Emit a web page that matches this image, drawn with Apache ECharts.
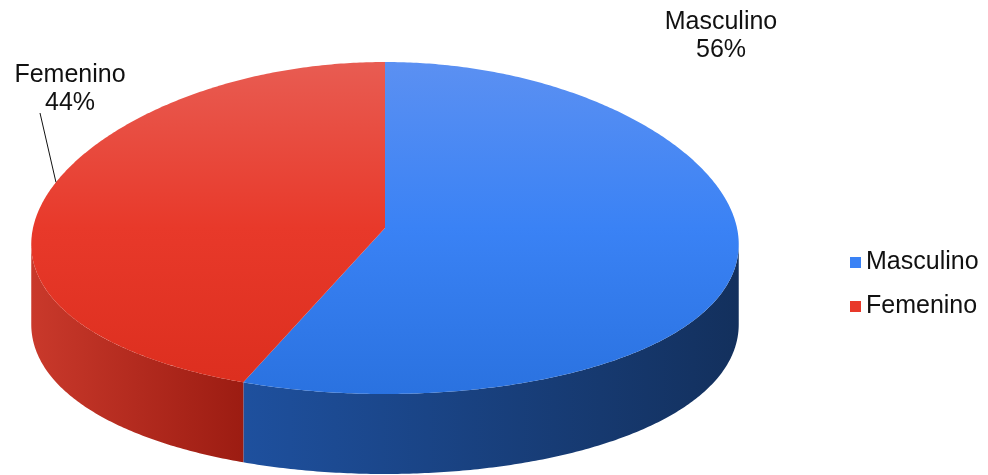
<!DOCTYPE html>
<html>
<head>
<meta charset="utf-8">
<script src="https://cdn.jsdelivr.net/npm/echarts@6/dist/echarts.min.js"></script>
<style>
  html, body { margin: 0; padding: 0; background: #fff; }
  #main { width: 988px; height: 475px; }
</style>
</head>
<body>
<div id="main"></div>
<script>
// data
const categories = ['Masculino', 'Femenino'];
const values = [56, 44];

// colours: top face (top, mid, bottom) and side wall (left, right)
const topColors = [
  ['#5b90f2', '#3a82f5', '#2a72e0'],
  ['#e85c52', '#e8392a', '#dc2e1e']
];
const sideColors = [
  ['#1e509e', '#13305d'],
  ['#c9392b', '#9c1c12']
];

// layout of the tilted disc (k = slight perspective, front wider than back)
const cx = 385, cy = 228, rx = 352, ry = 166, depth = 80, k = 0.1;
const labelPos = [[721, 8], [70, 61]];
const leader = [null, { from: [40, 113], angle: 286 }];

const total = values.reduce((a, b) => a + b, 0);
const starts = [];
let acc = 0;
values.forEach(v => { starts.push(acc / total * Math.PI * 2); acc += v; });

function pt(t, dy) {
  const f = 1 + k * (-Math.cos(t));
  return [cx + rx * Math.sin(t) * f, cy + (dy || 0) - ry * Math.cos(t)];
}

// angles of the left and right silhouette of the disc
function silhouette(lo, hi, sign) {
  let best = lo, bx = -Infinity;
  for (let t = lo; t <= hi; t += 0.001) {
    const x = sign * pt(t, 0)[0];
    if (x > bx) { bx = x; best = t; }
  }
  return best;
}
const visFrom = silhouette(Math.PI / 3, Math.PI * 2 / 3, 1);
const visTo = silhouette(Math.PI * 4 / 3, Math.PI * 5 / 3, -1);

function arc(a0, a1, dy) {
  const pts = [];
  const n = Math.max(2, Math.ceil((a1 - a0) / 0.01));
  for (let i = 0; i <= n; i++) pts.push(pt(a0 + (a1 - a0) * i / n, dy));
  return pts;
}

function makeRender(idx) {
  return function (params, api) {
    const a0 = starts[idx];
    const a1 = a0 + values[idx] / total * Math.PI * 2;
    const children = [];

    // side wall, only the front half is visible
    const s0 = Math.max(a0, visFrom), s1 = Math.min(a1, visTo);
    if (s1 > s0) {
      const pts = arc(s0, s1, 0).concat(arc(s0, s1, depth).reverse());
      children.push({
        type: 'polygon',
        shape: { points: pts },
        style: {
          fill: {
            type: 'linear', x: 0, y: 0, x2: 1, y2: 0,
            colorStops: [
              { offset: 0, color: sideColors[idx][0] },
              { offset: 1, color: sideColors[idx][1] }
            ]
          }
        }
      });
    }

    // top face
    children.push({
      type: 'polygon',
      shape: { points: [[cx, cy]].concat(arc(a0, a1, 0)) },
      style: {
        fill: {
          type: 'linear', x: 0, y: cy - ry, x2: 0, y2: cy + ry, global: true,
          colorStops: [
            { offset: 0, color: topColors[idx][0] },
            { offset: 0.5, color: topColors[idx][1] },
            { offset: 1, color: topColors[idx][2] }
          ]
        }
      }
    });

    // label
    const pct = Math.round(values[idx] / total * 100) + '%';
    children.push({
      type: 'text',
      x: labelPos[idx][0], y: labelPos[idx][1],
      style: {
        text: categories[idx] + '\n' + pct,
        fontFamily: 'Liberation Sans, Arial, sans-serif',
        fontSize: 25,
        lineHeight: 28,
        fill: '#111',
        align: 'center',
        verticalAlign: 'top'
      }
    });
    if (leader[idx]) {
      const e = pt(leader[idx].angle * Math.PI / 180, 0);
      children.push({
        type: 'line',
        shape: { x1: leader[idx].from[0], y1: leader[idx].from[1], x2: e[0], y2: e[1] },
        style: { stroke: '#111', lineWidth: 1 }
      });
    }
    return { type: 'group', children: children };
  };
}

const chart = echarts.init(document.getElementById('main'));
chart.setOption({
  animation: false,
  color: topColors.map(c => c[1]),
  legend: {
    orient: 'vertical',
    left: 845,
    top: 245,
    icon: 'rect',
    itemWidth: 11,
    itemHeight: 11,
    itemGap: 19,
    textStyle: { fontFamily: 'Liberation Sans, Arial, sans-serif', fontSize: 25, color: '#111' },
    data: categories
  },
  series: categories.map((name, i) => ({
    type: 'custom',
    name: name,
    coordinateSystem: 'none',
    itemStyle: { color: topColors[i][1] },
    data: [values[i]],
    renderItem: makeRender(i)
  }))
});
</script>
</body>
</html>
